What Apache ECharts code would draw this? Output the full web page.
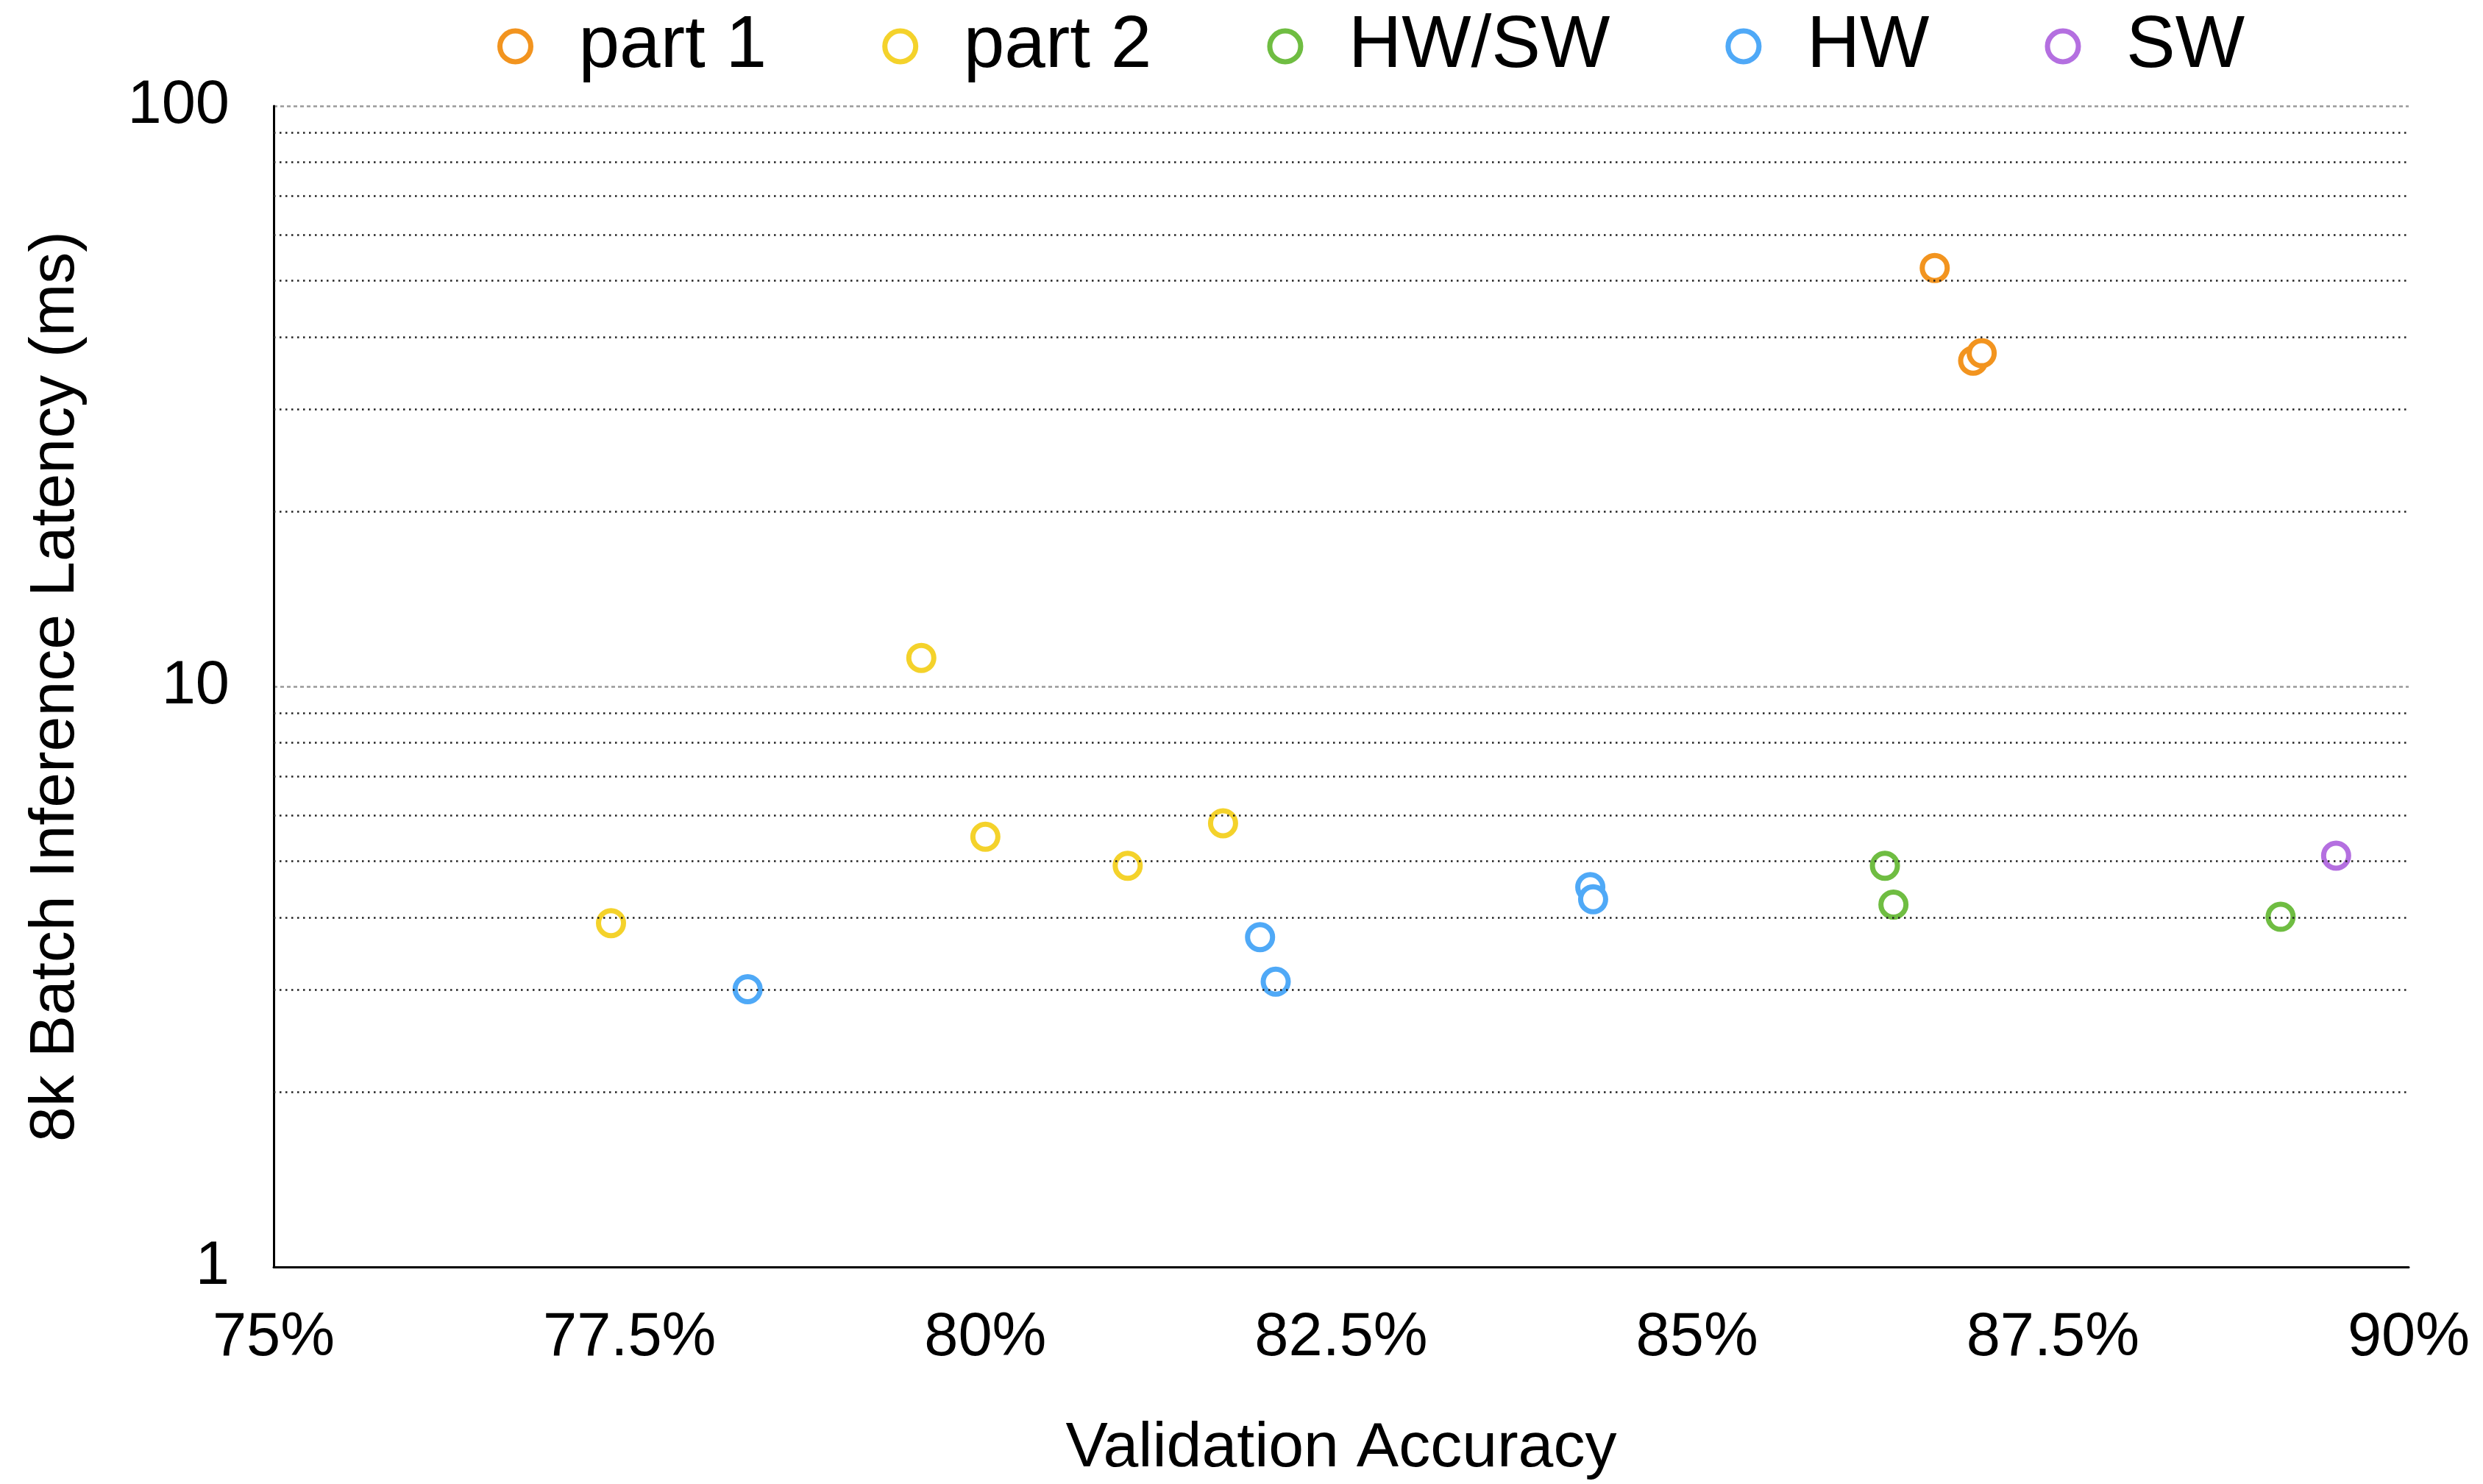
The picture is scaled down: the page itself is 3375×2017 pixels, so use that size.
<!DOCTYPE html>
<html>
<head>
<meta charset="utf-8">
<title>Latency vs accuracy</title>
<script src="https://cdn.jsdelivr.net/npm/echarts@6/dist/echarts.min.js"></script>
<style>
  html, body { margin: 0; padding: 0; background: #fff; }
  #main { width: 3375px; height: 2017px; }
</style>
</head>
<body>
<div id="main"></div>
<script>
var seriesNames = ['part 1', 'part 2', 'HW/SW', 'HW', 'SW'];
var seriesColors = ['#F2941F', '#F4D22B', '#6FBD42', '#4FA9F7', '#B46FE0'];

// accuracy (%) and latency (ms) per group
var part1Acc = [86.67, 86.94, 87.00];
var part1Lat = [52.6, 36.4, 37.5];
var part2Acc = [77.37, 79.55, 80.00, 81.00, 81.67];
var part2Lat = [3.91, 11.2, 5.51, 4.91, 5.81];
var hwswAcc = [86.32, 86.38, 89.10];
var hwswLat = [4.91, 4.21, 4.01];
var hwAcc = [78.33, 81.93, 82.04, 84.25, 84.27];
var hwLat = [3.01, 3.70, 3.10, 4.51, 4.30];
var swAcc = [89.49];
var swLat = [5.11];

var xTicks = [75, 77.5, 80, 82.5, 85, 87.5, 90];
var minorLines = [2, 3, 4, 5, 6, 7, 8, 9, 20, 30, 40, 50, 60, 70, 80, 90];

var FONT = '"Helvetica Neue", "Liberation Sans", Arial, sans-serif';

function pairs(xs, ys) {
  var out = [];
  for (var i = 0; i < xs.length; i++) out.push([xs[i], ys[i]]);
  return out;
}

function scatter(idx, xs, ys) {
  return {
    name: seriesNames[idx],
    type: 'scatter',
    symbol: 'circle',
    symbolSize: 34,
    z: 3,
    itemStyle: { color: '#fff', borderColor: seriesColors[idx], borderWidth: 7, opacity: 1 },
    emphasis: { disabled: true },
    data: pairs(xs, ys)
  };
}

var chart = echarts.init(document.getElementById('main'), null, { renderer: 'canvas' });

var option = {
  backgroundColor: '#fff',
  animation: false,
  textStyle: { fontFamily: FONT },
  legend: {
    top: 8,
    left: 671,
    itemWidth: 42,
    itemHeight: 42,
    itemGap: 157,
    selectedMode: false,
    data: seriesNames.map(function (n, i) {
      return {
        name: n,
        icon: 'circle',
        itemStyle: { color: '#fff', borderColor: seriesColors[i], borderWidth: 7 }
      };
    }),
    textStyle: { fontSize: 100, color: '#000', fontFamily: FONT, padding: [0, 0, 0, 60] }
  },
  grid: { left: 372, right: 101, top: 144, bottom: 286, containLabel: false },
  xAxis: {
    type: 'value',
    min: xTicks[0],
    max: xTicks[xTicks.length - 1],
    interval: 2.5,
    name: 'Validation Accuracy',
    nameLocation: 'middle',
    nameGap: 204,
    nameTextStyle: { fontSize: 86, color: '#000', fontFamily: FONT },
    axisLine: { show: true, onZero: false, lineStyle: { color: '#000', width: 3 } },
    axisTick: { show: false },
    splitLine: { show: false },
    axisLabel: {
      fontSize: 83, color: '#000', margin: 56, fontFamily: FONT,
      formatter: function (v) { return v + '%'; }
    }
  },
  yAxis: {
    type: 'log',
    logBase: 10,
    min: 1,
    max: 100,
    name: '8k Batch Inference Latency (ms)',
    nameLocation: 'middle',
    nameGap: 253,
    nameTextStyle: { fontSize: 86, color: '#000', fontFamily: FONT },
    axisLine: { show: true, lineStyle: { color: '#000', width: 3 } },
    axisTick: { show: false },
    axisLabel: { fontSize: 83, color: '#000', margin: 60, fontFamily: FONT, padding: [12, 0, 0, 0] },
    splitLine: { show: true, lineStyle: { color: '#999', width: 2.5, type: [5, 4] } }
  },
  series: [
    {
      name: 'minor grid',
      type: 'line',
      data: [],
      z: 1,
      silent: true,
      markLine: {
        silent: true,
        symbol: ['none', 'none'],
        label: { show: false },
        animation: false,
        lineStyle: { color: '#222', width: 2.5, type: [2.5, 5.5] },
        data: minorLines.map(function (v) { return { yAxis: v }; })
      }
    },
    scatter(0, part1Acc, part1Lat),
    scatter(1, part2Acc, part2Lat),
    scatter(2, hwswAcc, hwswLat),
    scatter(3, hwAcc, hwLat),
    scatter(4, swAcc, swLat)
  ]
};

chart.setOption(option);
</script>
</body>
</html>
